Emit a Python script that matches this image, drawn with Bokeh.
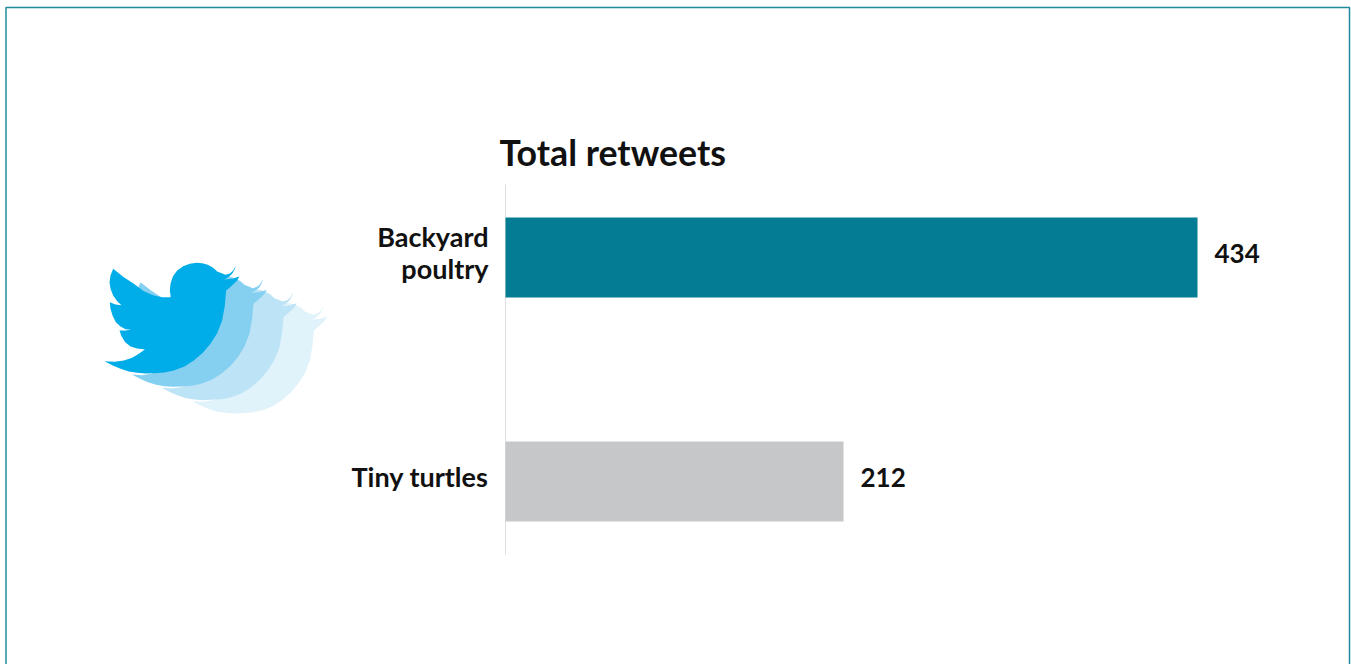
from bokeh.plotting import figure
from bokeh.models import ColumnDataSource, Range1d, BoxAnnotation, PolyAnnotation, Label
from bokeh.core.properties import value
from bokeh.embed import file_html
from bokeh.resources import INLINE

categories = ["Backyard\npoultry", "Tiny turtles"]
rows = [1, 0]
retweets = [434, 212]
bar_colors = ["#037c94", "#c6c7c9"]
value_labels = ["434", "212"]
title_text = "Total retweets"
FONT = "Lato"

bird_x = [436,428,418,405,380,368,352,335,318,298,278,260,247,240,238,241,215,190,160,130,100,68,60,57,60,68,80,93,75,58,60,66,76,90,105,122,105,87,93,104,120,140,163,145,125,100,72,42,65,90,115,140,165,190,222,250,282,310,337,360,380,395,403,407,418,430,440,447,425,402,415,425,432]
bird_y = [75,90,99,103,93,82,73,68,67,70,77,90,108,130,150,170,170,165,152,130,110,85,105,125,145,165,182,194,192,185,205,225,245,258,266,268,270,270,287,305,318,324,327,340,352,360,364,362,374,385,393,397,399,398,396,390,378,360,337,310,278,240,195,150,141,130,120,108,115,117,109,100,88]
layer_colors = ["#e0f3fb", "#bde3f6", "#85d0f1", "#00ade8"]
layer_dx = [87.7, 57.3, 27.3, 0]
layer_dy = [40, 26.7, 13.3, 0]

W, H = 1351, 664
PX_X = 692 / 434
PX_Y = 224
p = figure(width=W, height=H, output_backend="svg", toolbar_location=None,
           x_range=Range1d(-505 / PX_X, (W - 505) / PX_X),
           y_range=Range1d(1 - (H - 257) / PX_Y, 1 + 257 / PX_Y),
           min_border=0, background_fill_color="white", border_fill_color="white")
p.xaxis.visible = False
p.yaxis.visible = False
p.xgrid.visible = False
p.ygrid.visible = False
p.outline_line_color = None

src = ColumnDataSource(dict(row=rows, cat=categories, val=retweets, col=bar_colors, lab=value_labels))
p.segment(x0=0, x1=0, y0=1 + 73 / PX_Y, y1=-73 / PX_Y, line_color="#dfdfdf", line_width=1)
p.hbar(y="row", left=0, right="val", height=80 / PX_Y, fill_color="col", line_color=None, source=src)
p.text(x="val", y="row", text="lab", x_offset=17, y_offset=-4, text_font=value(FONT),
       text_font_style="bold", text_font_size="26px", text_color="#111111",
       text_baseline="middle", text_align="left", source=src)
p.text(x=0, y="row", text="cat", x_offset=-17, y_offset=-5, text_font=value(FONT),
       text_font_style="bold", text_font_size="27px", text_color="#111111",
       text_baseline="middle", text_align="right", text_line_height=0.965, source=src)

p.add_layout(Label(x=499, y=173, x_units="canvas", y_units="canvas", text=title_text,
                   text_font=FONT, text_font_style="bold", text_font_size="35.7px",
                   text_color="#111111", text_baseline="bottom", text_align="left"))

for dx, dy, col in zip(layer_dx, layer_dy, layer_colors):
    xs = [x / 3 + 90 + dx for x in bird_x]
    ys = [y / 3 + 240 + dy for y in bird_y]
    p.add_layout(PolyAnnotation(xs=xs, ys=ys, xs_units="canvas", ys_units="canvas",
                                fill_color=col, fill_alpha=1, line_color=None))

p.add_layout(BoxAnnotation(left=5.5, right=1349, top=7, bottom=720,
                           left_units="canvas", right_units="canvas",
                           top_units="canvas", bottom_units="canvas",
                           fill_alpha=0, line_color="#1f8a9c", line_width=1.5, line_alpha=1))

open("out.html", "w").write(file_html(p, INLINE))
